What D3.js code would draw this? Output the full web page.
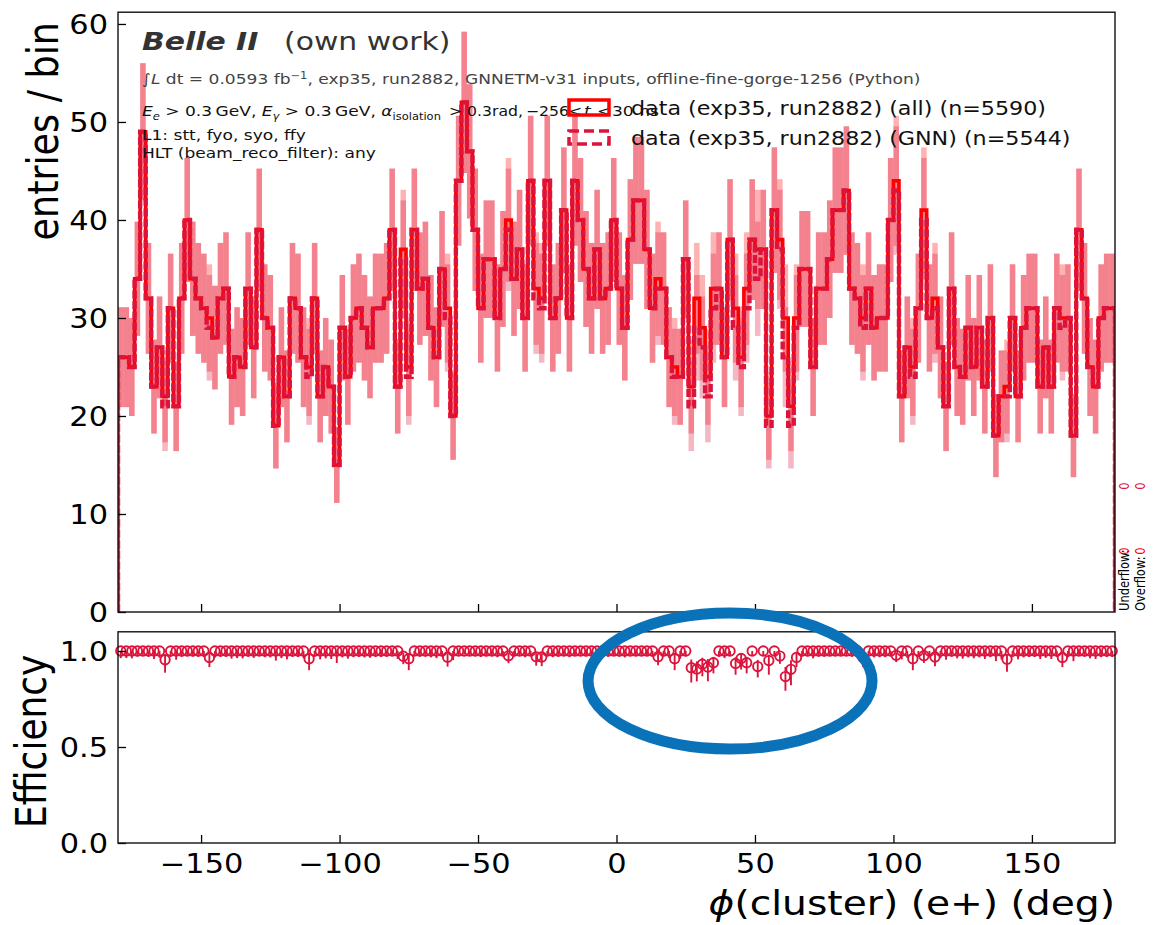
<!DOCTYPE html>
<html><head><meta charset="utf-8">
<script src="https://cdn.jsdelivr.net/npm/d3@7"></script>
<style>
body{margin:0;background:#fff}
svg{display:block}
text{font-family:"DejaVu Sans",sans-serif}
</style>
</head><body>
<svg id="chart" width="1154" height="925"></svg>
<script>
// phi(cluster) histogram, 2 degree bins from -180 to 180
const phiRange = [-180, 180];
const binWidth = 2;
const countsAll = [
  26,26,25,34,49,32,23,27,22,31, 21,32,40,34,32,31,30,28,32,33, 24,26,25,33,27,39,30,29,19,26,
  22,32,31,26,25,32,22,25,23,15, 29,24,30,31,29,27,31,31,32,39, 23,37,25,39,33,34,29,26,35,31,
  20,44,52,47,39,31,36,36,30,35, 40,34,37,30,44,33,32,44,30,32, 41,30,44,40,35,32,37,32,33,40,
  33,29,38,42,42,37,31,34,33,26, 25,24,36,23,32,29,24,33,33,26, 38,31,26,33,38,37,37,20,41,38,
  30,21,30,35,35,25,33,33,36,41, 41,43,33,32,30,33,29,30,30,40, 44,22,27,25,31,41,30,32,27,21,
  33,25,24,29,25,29,23,30,18,22, 23,30,22,29,31,31,23,27,23,31, 30,30,18,39,32,25,23,30,31,31
];
const countsGNN = [
  26,26,25,34,49,32,23,27,21,31, 21,32,40,34,32,31,29,28,32,33, 24,26,25,33,27,39,30,29,19,26,
  22,32,31,26,24,32,22,25,23,15, 29,24,30,31,29,27,31,31,32,39, 23,36,24,39,33,34,29,26,35,30,
  20,44,52,47,39,31,36,36,30,35, 39,34,37,30,44,32,31,44,30,32, 41,30,44,40,35,32,37,32,33,40,
  33,29,38,42,42,37,31,33,33,26, 24,24,36,21,29,27,22,31,33,26, 38,29,25,31,38,34,37,19,41,37,
  26,19,29,35,35,25,33,33,36,41, 41,43,33,32,29,33,29,30,30,40, 43,22,27,24,31,40,30,31,27,21,
  33,25,24,29,25,29,23,30,18,22, 22,30,22,29,31,31,23,27,23,31, 29,30,18,39,32,25,23,30,31,31
];
const seriesLabels = ["data (exp35, run2882) (all) (n=5590)", "data (exp35, run2882) (GNN) (n=5544)"];
const xTicks = [-150, -100, -50, 0, 50, 100, 150];
const yTicksTop = [0, 10, 20, 30, 40, 50, 60];
const yTicksBottom = [0, 0.5, 1.0];
const flowLabels = ["Underflow:", "Overflow:"];
const flowCounts = [[0, 0], [0, 0]];

const SX = 1.17;            // horizontal text stretch
const RED = "#ff0000", CRIMSON = "#dc143c";
const svg = d3.select("#chart");

const x = d3.scaleLinear().domain(phiRange).range([118, 1115]);
const yTop = d3.scaleLinear().domain([0, 61.2]).range([612, 12.2]);
const yBot = d3.scaleLinear().domain([0, 1.1]).range([843, 631.8]);
const edges = d3.range(countsAll.length + 1).map(i => phiRange[0] + i * binWidth);

const defs = svg.append("defs");
defs.append("clipPath").attr("id", "clipTop").append("rect")
  .attr("x", x(-180)).attr("y", yTop(61.2)).attr("width", x(180) - x(-180)).attr("height", yTop(0) - yTop(61.2));

function stretchText(sel, px, py, extra, sx) {
  return sel.append("text").attr("transform", `translate(${px},${py}) scale(${sx || SX},1)` + (extra || ""));
}

// ---------- top panel: error bands and step outlines ----------
const gTop = svg.append("g").attr("clip-path", "url(#clipTop)");
function bands(counts, color, op) {
  gTop.append("g").selectAll("rect").data(counts).join("rect")
    .attr("x", (d, i) => x(edges[i]))
    .attr("width", (d, i) => x(edges[i + 1]) - x(edges[i]))
    .attr("y", d => yTop(d + Math.sqrt(d)))
    .attr("height", d => yTop(d - Math.sqrt(d)) - yTop(d + Math.sqrt(d)))
    .attr("fill", color).attr("fill-opacity", op);
}
bands(countsAll, RED, 0.3);
bands(countsGNN, CRIMSON, 0.3);

function stepPoints(counts) {
  const pts = [[x(edges[0]), yTop(0)]];
  counts.forEach((c, i) => { pts.push([x(edges[i]), yTop(c)]); pts.push([x(edges[i + 1]), yTop(c)]); });
  pts.push([x(edges[edges.length - 1]), yTop(0)]);
  return pts;
}
const line = d3.line();
gTop.append("path").attr("d", line(stepPoints(countsAll)))
  .attr("fill", "none").attr("stroke", RED).attr("stroke-width", 3.6).attr("stroke-linejoin", "miter");
gTop.append("path").attr("d", line(stepPoints(countsGNN)))
  .attr("fill", "none").attr("stroke", CRIMSON).attr("stroke-width", 4.4)
  .attr("stroke-dasharray", "8,2.6").attr("stroke-linejoin", "miter");

// top panel axes
const fmt = d => (d < 0 ? "\u2212" + Math.abs(d) : String(d));
const axTopY = svg.append("g").attr("transform", `translate(${x(-180)},0)`)
  .call(d3.axisLeft(yTop).tickValues(yTicksTop).tickSize(-8).tickPadding(10).tickFormat(fmt));
const axTopX = svg.append("g").attr("transform", `translate(0,${yTop(0)})`)
  .call(d3.axisBottom(x).tickValues(xTicks).tickSize(-8).tickFormat(""));

// ---------- bottom panel: efficiency GNN / all ----------
const eff = countsAll.map((n, i) => {
  const k = countsGNN[i];
  const z = 1, den = n + z * z;
  const c = (k + z * z / 2) / den;
  const h = z / den * Math.sqrt(k * (n - k) / n + z * z / 4);
  return { phi: (edges[i] + edges[i + 1]) / 2, e: k / n, lo: Math.max(0, c - h), hi: Math.min(1, c + h) };
});
const gBot = svg.append("g");
gBot.selectAll("line.err").data(eff).join("line").attr("class", "err")
  .attr("x1", d => x(d.phi)).attr("x2", d => x(d.phi))
  .attr("y1", d => yBot(d.lo)).attr("y2", d => yBot(d.hi))
  .attr("stroke", CRIMSON).attr("stroke-width", 1.9);
gBot.selectAll("circle").data(eff).join("circle")
  .attr("cx", d => x(d.phi)).attr("cy", d => yBot(d.e)).attr("r", 4.7)
  .attr("fill", "none").attr("stroke", CRIMSON).attr("stroke-width", 1.9);

const axBotY = svg.append("g").attr("transform", `translate(${x(-180)},0)`)
  .call(d3.axisLeft(yBot).tickValues(yTicksBottom).tickSize(-8).tickPadding(10).tickFormat(d3.format(".1f")));
const axBotX = svg.append("g").attr("transform", `translate(0,${yBot(0)})`)
  .call(d3.axisBottom(x).tickValues(xTicks).tickSize(-8).tickPadding(12).tickFormat(fmt));

[axTopY, axTopX, axBotY, axBotX].forEach(a => {
  a.select(".domain").remove();
  a.selectAll(".tick line").attr("stroke", "#000").attr("stroke-width", 1.3);
  a.selectAll("text").attr("font-size", 26).attr("fill", "#000").attr("font-family", "DejaVu Sans");
});
[axTopY, axBotY].forEach(a => a.selectAll("text").attr("x", null).attr("dy", "0.36em")
  .attr("transform", `translate(-10,0) scale(${SX},1)`));
axBotX.selectAll("text").attr("transform", `scale(${SX},1)`);

// frames
svg.append("rect").attr("x", x(-180)).attr("y", yTop(61.2)).attr("width", x(180) - x(-180))
  .attr("height", yTop(0) - yTop(61.2)).attr("fill", "none").attr("stroke", "#111").attr("stroke-width", 1.4);
svg.append("rect").attr("x", x(-180)).attr("y", yBot(1.1)).attr("width", x(180) - x(-180))
  .attr("height", yBot(0) - yBot(1.1)).attr("fill", "none").attr("stroke", "#111").attr("stroke-width", 1.4);

// axis labels
stretchText(svg, 58, 22, " rotate(-90)").attr("text-anchor", "end").attr("font-size", 36.5).text("entries / bin");
stretchText(svg, 46, yBot(0.53), " rotate(-90)").attr("text-anchor", "middle").attr("font-size", 36).text("Efficiency");
const xl = stretchText(svg, x(180), 915).attr("text-anchor", "end").attr("font-size", 33.5);
xl.append("tspan").attr("font-style", "italic").text("\u03D5");
xl.append("tspan").text("(cluster) (e+) (deg)");

// ---------- run information ----------
const FS = 14.6, FSS = 9.8;
const ux = px => (px - 142) / SX;   // page x -> local x inside a stretched text
const t1 = stretchText(svg, 142, 50).attr("font-size", 25.5).attr("fill", "#333");
t1.append("tspan").attr("font-weight", "bold").attr("font-style", "italic").text("Belle II");
t1.append("tspan").attr("x", ux(284)).text("(own work)");

const t2 = stretchText(svg, 142, 84).attr("font-size", FS).attr("fill", "#444");
t2.append("tspan").text("\u222B");
t2.append("tspan").attr("font-style", "italic").text("L");
t2.append("tspan").text(" dt = 0.0593 fb");
t2.append("tspan").attr("font-size", FSS).attr("dy", -5.5).text("\u22121");
t2.append("tspan").attr("dy", 5.5).text(", exp35, run2882, GNNETM-v31 inputs, offline-fine-gorge-1256 (Python)");

const t3 = stretchText(svg, 142, 116).attr("font-size", FS).attr("fill", "#111");
const sub = (sel, s, italic) => {
  sel.append("tspan").attr("font-size", FSS).attr("dy", 3.8).attr("font-style", italic ? "italic" : null).text(s);
};
t3.append("tspan").attr("font-style", "italic").text("E");
sub(t3, "e", true);
t3.append("tspan").attr("dy", -3.8).text(" > 0.3\u2009GeV, ");
t3.append("tspan").attr("font-style", "italic").text("E");
sub(t3, "\u03B3", true);
t3.append("tspan").attr("dy", -3.8).text(" > 0.3\u2009GeV, ");
t3.append("tspan").attr("font-style", "italic").text("\u03B1");
sub(t3, "isolation", false);
t3.append("tspan").attr("dy", -3.8).attr("x", ux(449)).attr("font-size", 13.4).text("> 0.3rad,");
t3.append("tspan").attr("x", ux(526)).attr("font-size", 13.4).text("\u2212256");
t3.append("tspan").attr("x", ux(568)).text("<");
t3.append("tspan").attr("x", ux(584)).attr("font-style", "italic").text("t");
t3.append("tspan").attr("x", ux(597)).text("<");
t3.append("tspan").attr("x", ux(612)).text("30 ns");

stretchText(svg, 142, 140).attr("font-size", FS).attr("fill", "#111").text("L1: stt, fyo, syo, ffy");
stretchText(svg, 142, 158).attr("font-size", FS).attr("fill", "#111").text("HLT (beam_reco_filter): any");

// legend
const leg = svg.append("g");
leg.append("rect").attr("x", 569).attr("y", 100).attr("width", 40).attr("height", 15)
  .attr("fill", "none").attr("stroke", RED).attr("stroke-width", 3.5);
leg.append("rect").attr("x", 569).attr("y", 131).attr("width", 40).attr("height", 13)
  .attr("fill", "none").attr("stroke", CRIMSON).attr("stroke-width", 3.5).attr("stroke-dasharray", "10,5");
seriesLabels.forEach((s, i) => {
  stretchText(leg, 631, 115 + i * 30).attr("font-size", 19).attr("fill", "#111").text(s);
});

// under/overflow counts along the right edge
flowLabels.forEach((lab, i) => {
  const px = 1129 + i * 15.5;
  stretchText(svg, px, 611, " rotate(-90)").attr("font-size", 11.5).attr("fill", "#000").text(lab);
  flowCounts[i].forEach((v, j) => {
    stretchText(svg, px, [551, 486][j], " rotate(-90)").attr("font-size", 11.5)
      .attr("text-anchor", "middle").attr("fill", j === 0 ? RED : CRIMSON).text(v);
  });
});

// highlight ellipse
svg.append("ellipse").attr("cx", x(41)).attr("cy", 681).attr("rx", 142).attr("ry", 68)
  .attr("fill", "none").attr("stroke", "#0a72b9").attr("stroke-width", 11);
</script>
</body></html>
